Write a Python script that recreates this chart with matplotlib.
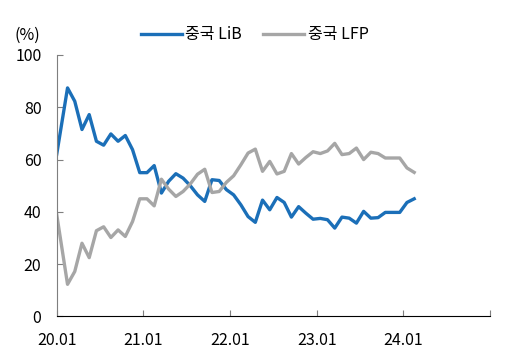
import numpy as np
import matplotlib
matplotlib.use("Agg")
from matplotlib import pyplot as plt

plt.rcParams['font.family'] = ['Noto Sans CJK KR', 'DejaVu Sans']

# 월별 점유율 (%), 20.01 ~ 24.02
lib_share = [62, 87.4, 82.3, 71.5, 77.2, 67, 65.5, 69.8, 67, 69.2,
             63.8, 55, 55, 57.7, 47.2, 51.7, 54.6, 52.9, 50, 46.5,
             44, 52.3, 52, 48.5, 46.5, 42.7, 38.2, 36, 44.5, 40.8,
             45.5, 43.6, 38, 42, 39.5, 37.2, 37.5, 37, 33.8, 38,
             37.6, 35.7, 40.2, 37.6, 37.8, 39.8, 39.8, 39.8, 43.6, 45]
lfp_share = [39, 12.3, 17.2, 28, 22.5, 32.8, 34.3, 30.2, 33.1, 30.6,
             36.3, 45, 45, 42.3, 52.5, 48.7, 45.9, 47.8, 50.7, 54.4,
             56.3, 47.4, 47.8, 51.3, 53.8, 58, 62.5, 64, 55.5, 59.3,
             54.5, 55.5, 62.3, 58.3, 60.8, 63, 62.3, 63.3, 66.2, 61.9,
             62.3, 64.4, 60, 62.8, 62.3, 60.6, 60.6, 60.6, 56.8, 55.1]
tick_labels = ["20.01", "21.01", "22.01", "23.01", "24.01", ""]

# x축: 20.01부터 개월 수 (월 중앙에 점)
x = np.arange(len(lib_share)) + 0.5
x[0] = 0

fs = 11.5
fig = plt.figure(figsize=(5.09, 3.56), dpi=100)
ax = fig.add_axes([0.1114, 0.111, 0.8513, 0.7346])

ax.plot(x, lib_share, color="#1b6fb8", lw=2.4, label="중국 LiB", solid_joinstyle="round")
ax.plot(x, lfp_share, color="#a6a6a6", lw=2.4, label="중국 LFP", solid_joinstyle="round")

ax.set_xlim(0, 60)
ax.set_ylim(0, 100)
ax.set_xticks(np.arange(0, 61, 12))
ax.set_xticklabels(tick_labels)
ax.set_yticks(np.arange(0, 101, 20))

ax.spines["top"].set_visible(False)
ax.spines["right"].set_visible(False)
ax.spines["left"].set_color("#7f7f7f")
ax.spines["bottom"].set_color("#000000")
ax.tick_params(axis="y", direction="in", length=4, color="#7f7f7f", pad=11, labelsize=fs)
ax.tick_params(axis="x", direction="in", length=4, color="#7f7f7f", pad=11, labelsize=fs)

fig.text(0.028, 0.902, "(%)", fontsize=fs, va="center", ha="left")
fig.legend(loc="center", bbox_to_anchor=(0.5, 0.902), ncol=2, frameon=False,
           fontsize=fs, handlelength=2.6, handletextpad=0.2, columnspacing=1.3)

plt.savefig("out.png", dpi=100)
